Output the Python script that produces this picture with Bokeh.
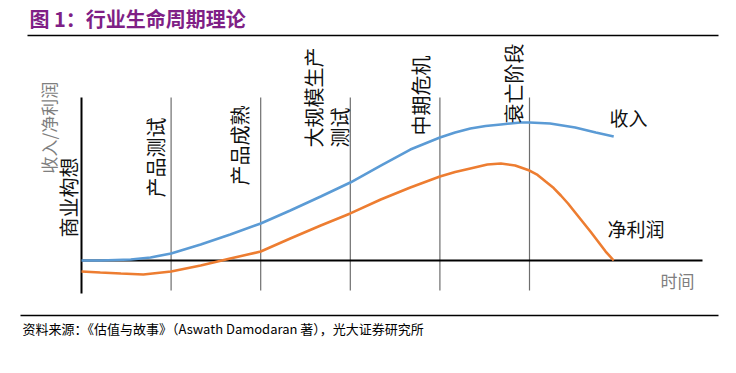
from bokeh.plotting import figure
from bokeh.models import Range1d
from bokeh.embed import file_html
from bokeh.resources import INLINE
from bokeh.core.properties import value
import math

# ---- data (time in stage units, values relative, 0 = axis) ----
rev_t = [0.0, 0.21, 0.55, 0.77, 1.0, 1.33, 1.66, 2.0, 2.33, 2.67, 3.0, 3.34, 3.67, 4.0, 4.17, 4.34, 4.51, 4.68, 4.9, 5.0, 5.23, 5.51, 5.74, 5.94]
rev_v = [0.0, 0.0, 0.7, 2.2, 5.1, 11.6, 18.8, 26.8, 36.2, 46.4, 56.5, 68.8, 80.4, 89.1, 92.8, 95.7, 97.5, 98.6, 100.0, 100.0, 99.3, 96.4, 92.8, 89.9]

prof_t = [0.0, 0.21, 0.44, 0.69, 1.0, 1.33, 1.66, 2.0, 2.33, 2.67, 3.0, 3.34, 3.67, 4.0, 4.17, 4.34, 4.53, 4.68, 4.84, 5.0, 5.09, 5.18, 5.27, 5.35, 5.43, 5.51, 5.68, 5.85, 5.94]
prof_v = [-8.0, -8.7, -9.4, -10.1, -8.0, -3.6, 1.4, 6.5, 15.9, 25.4, 34.1, 44.2, 52.9, 60.9, 64.1, 66.7, 69.6, 70.3, 68.8, 65.2, 62.0, 57.2, 52.5, 47.1, 41.3, 34.8, 21.0, 6.5, 0.0]

stage_t = [0, 1, 2, 3, 4, 5]
stage_labels = ["商业构想", "产品测试", "产品成熟", "大规模生产\n测试", "中期危机", "衰亡阶段"]

title_text = "图 1：行业生命周期理论"
source_text = "资料来源：《估值与故事》（Aswath Damodaran 著），光大证券研究所"

# ---- layout helpers (page pixel -> data coords); canvas sits at page (0,0) ----
W, H = 720, 357
OX, OY = 0, 0
def X(px):
    return (px - 81) / 89.6
def Y(py):
    return (260 - py) / 1.38

p = figure(width=W, height=H, output_backend="svg", toolbar_location=None,
           x_range=Range1d(X(OX), X(OX + W)), y_range=Range1d(Y(OY + H), Y(OY)),
           min_border=0, outline_line_color=None)
p.axis.visible = False
p.grid.visible = False
p.background_fill_color = "white"
p.border_fill_color = "white"

CJK = "Noto Sans CJK SC"

# title + rules
p.text(x=[X(29)], y=[Y(18)], text=[title_text], text_font=value(CJK), text_font_size="20px",
       text_font_style="bold", text_color="#7F1F86", text_baseline="middle", text_align="left")
p.segment(x0=[X(27)], y0=[Y(35)], x1=[X(718)], y1=[Y(35)], line_color="black", line_width=1.5)
p.segment(x0=[X(20)], y0=[Y(315)], x1=[X(718)], y1=[Y(315)], line_color="black", line_width=1.5)
p.text(x=[X(22)], y=[Y(328)], text=[source_text], text_font=value(CJK), text_font_size="13px",
       text_color="black", text_baseline="middle", text_align="left")

# stage boundary lines
tops = [Y(97)] * len(stage_t)
bottoms = [Y(293)] + [Y(290)] * (len(stage_t) - 1)
colors = ["black"] + ["#6e6e6e"] * (len(stage_t) - 1)
widths = [2] + [1.2] * (len(stage_t) - 1)
for t, y0, y1, c, w in zip(stage_t, bottoms, tops, colors, widths):
    p.segment(x0=[t], y0=[y0], x1=[t], y1=[y1], line_color=c, line_width=w)

# horizontal time axis
p.segment(x0=[0], y0=[0], x1=[X(702)], y1=[0], line_color="black", line_width=2)

# curves
p.line(rev_t, rev_v, line_color="#5B9BD5", line_width=2.6)
p.line(prof_t, prof_v, line_color="#ED7D31", line_width=2.6)

# stage labels (rotated, each line placed separately)
lab_px_offset = [-13, -16, -21, -37, -19, -16]
lab_bottom_py = [237, 197, 185, 147, 135, 123]
LINE_GAP = 26
for t, lab, dx, by in zip(stage_t, stage_labels, lab_px_offset, lab_bottom_py):
    for k, part in enumerate(lab.split("\n")):
        p.text(x=[t + (dx + k * LINE_GAP) / 89.6], y=[Y(by)], text=[part], angle=math.pi / 2,
               text_font=value(CJK), text_font_size="20px", text_color="#111111",
               text_align="left", text_baseline="middle")

# axis titles
p.text(x=[X(48)], y=[Y(173)], text=["收入/净利润"], angle=math.pi / 2, text_font=value(CJK),
       text_font_size="17px", text_color="#7f7f7f", text_align="left", text_baseline="middle")
p.text(x=[X(660)], y=[Y(280)], text=["时间"], text_font=value(CJK),
       text_font_size="17px", text_color="#7f7f7f", text_align="left", text_baseline="middle")

# series labels
p.text(x=[X(609)], y=[Y(117)], text=["收入"], text_font=value(CJK), text_font_size="19px",
       text_color="#111111", text_align="left", text_baseline="middle")
p.text(x=[X(607)], y=[Y(228)], text=["净利润"], text_font=value(CJK), text_font_size="19px",
       text_color="#111111", text_align="left", text_baseline="middle")

open("out.html", "w").write(file_html(p, INLINE))
